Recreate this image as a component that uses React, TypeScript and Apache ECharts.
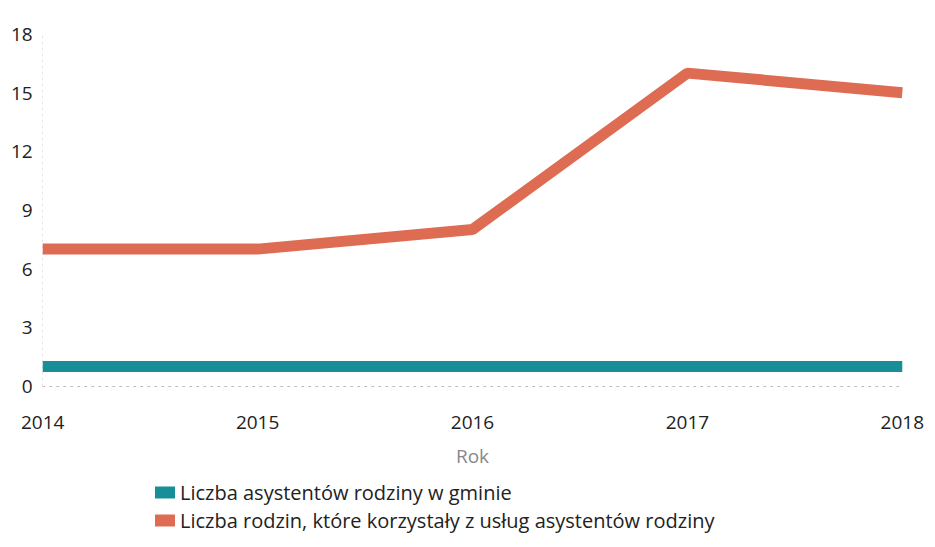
import React, { useEffect, useRef } from "react";
import * as echarts from "echarts";

const years = ["2014", "2015", "2016", "2017", "2018"];
const assistants = [1, 1, 1, 1, 1];
const families = [7, 7, 8, 16, 15];
const seriesNames = [
  "Liczba asystentów rodziny w gminie",
  "Liczba rodzin, które korzystały z usług asystentów rodziny",
];
const yTicks = { min: 0, max: 18, interval: 3 };

export default function App() {
  const ref = useRef<HTMLDivElement>(null);
  useEffect(() => {
    if (!ref.current) return;
    const chart = echarts.init(ref.current, null, { renderer: "svg" });
    const font = "'Open Sans', 'Noto Sans', sans-serif";
    chart.setOption({
      animation: false,
      textStyle: { fontFamily: font },
      grid: { left: 30, right: 14, top: 26, bottom: 161, containLabel: false },
      legend: {
        orient: "vertical",
        left: 142,
        top: 468,
        itemWidth: 20,
        itemHeight: 12,
        itemGap: 5,
        icon: "rect",
        textStyle: { fontSize: 20, lineHeight: 23, color: "#222", fontFamily: font },
        data: seriesNames,
      },
      xAxis: {
        type: "category",
        data: years,
        boundaryGap: false,
        name: "Rok",
        nameLocation: "middle",
        nameGap: 60,
        nameTextStyle: { fontSize: 19, color: "#888", fontFamily: font },
        axisLine: { show: true, lineStyle: { color: "#bbb", type: [2, 5], width: 1 } },
        axisTick: { show: false },
        axisLabel: { fontSize: 19, color: "#222", margin: 26, fontFamily: font },
        splitLine: { show: false },
      },
      yAxis: {
        type: "value",
        min: yTicks.min,
        max: yTicks.max,
        interval: yTicks.interval,
        axisLine: { show: true, lineStyle: { color: "#e4e4ec", type: [2, 4], width: 1 } },
        axisTick: { show: false },
        axisLabel: { fontSize: 19, color: "#222", margin: 10, fontFamily: font },
        splitLine: { show: false },
      },
      series: [
        {
          name: seriesNames[0],
          type: "line",
          data: assistants,
          symbol: "none",
          color: "#188f98",
          lineStyle: { width: 11, color: "#188f98" },
        },
        {
          name: seriesNames[1],
          type: "line",
          data: families,
          symbol: "none",
          color: "#de6c53",
          lineStyle: { width: 11, color: "#de6c53" },
        },
      ],
    });
    return () => chart.dispose();
  }, []);
  return <div ref={ref} style={{ width: 919, height: 539 }} />;
}
